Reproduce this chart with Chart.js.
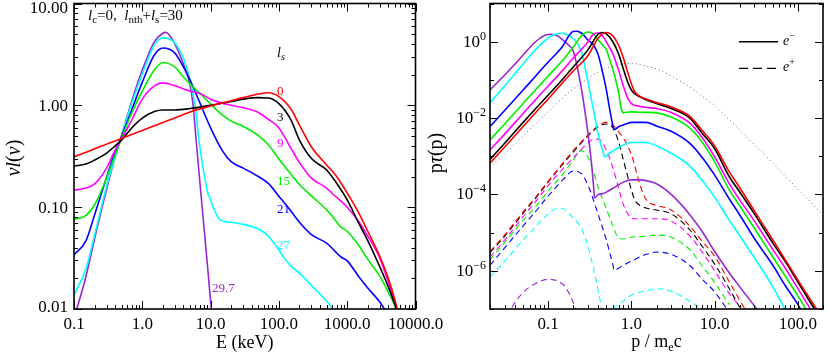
<!DOCTYPE html>
<html><head><meta charset="utf-8">
<script src="https://cdn.jsdelivr.net/npm/chart.js@4"></script>
<style>
html,body{margin:0;padding:0;background:#fff;}
#wrap{position:relative;width:830px;height:356px;overflow:hidden;background:#fff;}
canvas{position:absolute;top:0;}
#cl{left:0;} #cr{left:415px;}
</style></head><body>
<div id="wrap"><canvas id="cl" width="460" height="356"></canvas><canvas id="cr" width="415" height="356"></canvas></div>
<script>
// ---------------- LEFT PANEL DATA : nu l(nu) vs E (keV) ----------------
const L_xTicks = [0.1, 1, 10, 100, 1000, 10000];
const L_xTickLabels = ['0.1', '1.0', '10.0', '100.0', '1000.0', '10000.0'];
const L_yTicks = [0.01, 0.1, 1, 10];
const L_yTickLabels = ['0.01', '0.10', '1.00', '10.00'];

const L_E_ls0 = [0.1,0.15,0.2,0.3,0.4,0.5,0.7,1,1.5,2,3,5,10,20,30,50,70,100,150,200,300,500,700,1000,1500,2000,3000,4000,5000,5500];
const L_V_ls0 = [0.313,0.347,0.374,0.416,0.447,0.474,0.517,0.567,0.629,0.678,0.752,0.86,0.985,1.11,1.19,1.29,1.33,1.22,0.92,0.64,0.39,0.26,0.20,0.138,0.086,0.058,0.033,0.020,0.0123,0.0096];

const L_E_ls3 = [0.1,0.15,0.2,0.3,0.4,0.5,0.7,1,1.5,2,3,5,10,20,30,50,70,100,150,200,300,500,700,1000,1500,2000,3000,4000,5000,5500];
const L_V_ls3 = [0.253,0.265,0.29,0.34,0.40,0.456,0.60,0.75,0.87,0.90,0.90,0.93,1.0,1.09,1.15,1.19,1.18,1.04,0.72,0.456,0.30,0.232,0.172,0.118,0.068,0.047,0.026,0.0165,0.011,0.009];

const L_E_ls9 = [0.1,0.15,0.2,0.3,0.4,0.5,0.7,1,1.5,2,3,5,7,10,20,30,50,70,100,150,200,300,500,600,1000,1500,2000,3000,4000,5000,5500];
const L_V_ls9 = [0.147,0.154,0.169,0.242,0.364,0.467,0.717,1.15,1.55,1.66,1.56,1.38,1.31,1.15,1.0,0.95,0.85,0.73,0.60,0.38,0.274,0.193,0.154,0.137,0.10,0.071,0.052,0.0316,0.0183,0.0116,0.0093];

const L_E_ls15 = [0.1,0.15,0.2,0.3,0.4,0.5,0.7,1,1.5,2,3,4,5,7,10,15,20,30,50,70,100,150,200,300,500,600,800,1000,1500,2000,3000,4000,5000,5500];
const L_V_ls15 = [0.076,0.083,0.105,0.193,0.325,0.477,0.84,1.38,2.22,2.63,2.37,1.9,1.62,1.31,1.03,0.80,0.70,0.62,0.505,0.41,0.297,0.211,0.167,0.129,0.094,0.082,0.064,0.058,0.0415,0.0307,0.021,0.0146,0.0107,0.0089];

const L_E_ls21 = [0.1,0.15,0.2,0.3,0.4,0.5,0.7,1,1.5,2,3,4,5,7,10,15,20,30,50,70,100,150,200,300,500,600,800,1000,1500,2000,3000,3500,4000];
const L_V_ls21 = [0.034,0.047,0.084,0.197,0.348,0.50,0.90,1.69,3.12,3.65,3.26,2.38,1.77,1.05,0.60,0.355,0.28,0.242,0.20,0.171,0.128,0.0915,0.071,0.0537,0.0443,0.0395,0.0326,0.0297,0.0205,0.0161,0.0117,0.010,0.0085];

const L_E_ls27 = [0.1,0.15,0.2,0.3,0.4,0.5,0.7,1,1.5,2,3,4,5,5.5,6,6.5,7,7.5,8.5,9,10,11,12,13.5,20,30,50,70,100,120,150,200,300,500,700];
const L_V_ls27 = [0.0137,0.025,0.053,0.161,0.31,0.51,1.05,2.03,3.9,4.6,4.1,2.9,1.8,1.3,0.95,0.57,0.38,0.277,0.173,0.141,0.118,0.098,0.086,0.076,0.071,0.068,0.061,0.052,0.038,0.0316,0.0264,0.0225,0.017,0.0119,0.0091];

const L_E_ls297 = [0.1,0.15,0.2,0.3,0.4,0.5,0.7,1,1.5,2,2.2,3,4,5,5.5,6,7,8.5,10,11];
const L_V_ls297 = [0.0081,0.021,0.049,0.15,0.31,0.51,1.1,2.22,4.2,5.1,5.2,4.0,2.54,1.58,1.05,0.55,0.17,0.041,0.012,0.006];

const L_curveLabels = ['0', '3', '9', '15', '21', '27', '29.7'];
const L_labelE = [94, 94, 94, 94, 94, 94, 10.5];
const L_labelV = [1.41, 0.77, 0.436, 0.183, 0.098, 0.0434, 0.0164];

// ---------------- RIGHT PANEL DATA : p tau(p) vs p/mec ----------------
const R_xTicks = [0.1, 1, 10, 100];
const R_xTickLabels = ['0.1', '1.0', '10.0', '100.0'];
const R_yTicks = [1e-6, 1e-4, 1e-2, 1];
const R_yTickExp = ['\u22126', '\u22124', '\u22122', '0'];

// electrons (solid)
const R_p_el_purple = [0.02,0.03,0.04,0.05,0.07,0.09,0.1,0.11,0.13,0.15,0.18,0.2,0.25,0.3,0.33,0.35,0.36,0.4,0.45,0.5,0.6,0.8,1,1.3,1.5,2,3,5,7,10,15,20,30,33];
const R_t_el_purple = [0.0544,0.134,0.26,0.45,0.98,1.45,1.54,1.56,1.41,1.11,0.77,0.57,0.06,4.1e-3,7e-4,1.77e-4,8.1e-5,1.0e-4,1.05e-4,1.15e-4,1.45e-4,2.1e-4,2.4e-4,2.4e-4,2.3e-4,1.9e-4,1.0e-4,3.0e-5,1.1e-5,3.2e-6,8.8e-7,3.8e-7,1.2e-7,9e-8];
const R_p_el_cyan = [0.02,0.03,0.05,0.07,0.1,0.12,0.14,0.16,0.2,0.25,0.3,0.35,0.4,0.45,0.48,0.55,0.7,1,1.5,2,3,5,7,10,15,20,30,50,70];
const R_t_el_cyan = [0.0253,0.069,0.26,0.61,1.25,1.54,1.66,1.59,1.21,0.55,0.09,0.0163,3.6e-3,1.45e-3,9.7e-4,1.2e-3,1.7e-3,2.3e-3,2.3e-3,1.87e-3,1.2e-3,5.6e-4,2.4e-4,8.5e-5,2.1e-5,8.3e-6,2.2e-6,3.8e-7,1e-7];
const R_p_el_blue = [0.02,0.03,0.05,0.07,0.1,0.15,0.18,0.2,0.22,0.25,0.3,0.35,0.4,0.45,0.5,0.55,0.6,0.62,0.7,0.8,1,1.5,2,3,5,7,10,15,20,30,50,70,100,110];
const R_t_el_blue = [6.0e-3,0.0158,0.0544,0.123,0.294,0.77,1.5,1.85,1.87,1.69,1.11,0.82,0.45,0.16,0.055,0.0163,6.2e-3,5.0e-3,5.9e-3,6.6e-3,7.7e-3,7.7e-3,6.2e-3,4.5e-3,2.2e-3,9.6e-4,3.2e-4,7.6e-5,2.9e-5,7.0e-6,1.4e-6,4.2e-7,1.3e-7,9e-8];
const R_p_el_green = [0.02,0.03,0.05,0.07,0.1,0.15,0.2,0.25,0.3,0.35,0.4,0.45,0.5,0.55,0.6,0.7,0.75,0.8,1,1.5,2,3,5,7,10,15,20,30,50,70,100,150];
const R_t_el_green = [2.67e-3,7.0e-3,0.024,0.0544,0.126,0.332,0.73,1.41,1.79,1.59,1.11,0.82,0.61,0.33,0.18,0.048,0.0184,0.0139,0.0145,0.0141,0.0137,0.0107,5.5e-3,2.4e-3,7.1e-4,1.3e-4,5.0e-5,1.3e-5,2.3e-6,7.4e-7,2.2e-7,5e-8];
const R_p_el_magenta = [0.02,0.03,0.05,0.07,0.1,0.15,0.2,0.3,0.35,0.4,0.45,0.5,0.55,0.6,0.7,0.8,0.9,1.0,1.2,1.5,2,3,5,7,10,15,20,30,50,70,100,150];
const R_t_el_magenta = [1.46e-3,3.8e-3,0.0132,0.0298,0.069,0.18,0.374,0.98,1.59,1.69,1.41,0.98,0.68,0.48,0.18,0.069,0.0336,0.024,0.0207,0.019,0.0178,0.014,7.5e-3,3.2e-3,9.6e-4,1.9e-4,7.2e-5,2.0e-5,3.6e-6,1.2e-6,3.4e-7,8e-8];
const R_p_el_black = [0.02,0.03,0.05,0.07,0.1,0.15,0.2,0.3,0.4,0.45,0.5,0.6,0.7,0.8,0.9,1.0,1.1,1.3,1.5,2,3,5,7,10,15,20,30,50,70,100,150,200];
const R_t_el_black = [8.3e-4,2.2e-3,7.7e-3,0.0173,0.040,0.106,0.218,0.61,1.59,1.74,1.59,0.98,0.48,0.193,0.088,0.054,0.043,0.035,0.030,0.024,0.0178,0.0101,4.1e-3,1.57e-3,2.9e-4,1.16e-4,3.1e-5,5.3e-6,1.8e-6,5.1e-7,1.2e-7,4.6e-8];
const R_p_el_red = [0.02,0.03,0.05,0.07,0.1,0.15,0.2,0.3,0.4,0.5,0.6,0.7,0.8,0.9,1.0,1.1,1.3,1.5,2,3,5,7,10,15,20,30,50,70,100,150,200];
const R_t_el_red = [6.6e-4,1.75e-3,6.0e-3,0.0136,0.0316,0.0855,0.171,0.43,1.25,1.74,1.41,0.82,0.374,0.161,0.078,0.048,0.0357,0.0316,0.0256,0.0195,0.0113,4.9e-3,1.87e-3,3.9e-4,1.5e-4,3.7e-5,6.4e-6,2.0e-6,5.7e-7,1.45e-7,5.5e-8];

// positrons (dashed)
const R_p_po_red = [0.02,0.03,0.05,0.07,0.1,0.15,0.2,0.3,0.4,0.5,0.6,0.7,0.8,1.0,1.2,1.4,1.6,2,3,5,7,10,15,20,23];
const R_t_po_red = [3.2e-6,8.7e-6,3.5e-5,8.3e-5,2.2e-4,6.6e-4,1.4e-3,3.6e-3,6.3e-3,7.7e-3,6.6e-3,4.4e-3,3.0e-3,1.1e-3,2.7e-4,9.7e-5,6.3e-5,5.2e-5,3.9e-5,1.5e-5,6.1e-6,2.4e-6,5.1e-7,1.7e-7,1e-7];
const R_p_po_black = [0.02,0.03,0.05,0.07,0.1,0.15,0.2,0.3,0.4,0.5,0.6,0.7,0.8,0.9,1.0,1.1,1.3,1.5,2,3,5,7,10,15,20];
const R_t_po_black = [3.0e-6,8.0e-6,3.2e-5,7.8e-5,2.1e-4,6.2e-4,1.3e-3,3.4e-3,5.9e-3,7.0e-3,5.5e-3,2.4e-3,8.0e-4,3.0e-4,1.3e-4,7.1e-5,5.0e-5,4.4e-5,3.9e-5,3.1e-5,1.2e-5,4.5e-6,1.5e-6,3.4e-7,1.1e-7];
const R_p_po_magenta = [0.02,0.03,0.05,0.07,0.1,0.15,0.2,0.3,0.35,0.4,0.5,0.6,0.7,0.8,0.9,1.0,1.5,2,3,5,7,10,15,20];
const R_t_po_magenta = [2.3e-6,6.4e-6,2.6e-5,6.3e-5,1.7e-4,4.7e-4,9.1e-4,2.2e-3,2.8e-3,2.8e-3,1.45e-3,4.9e-4,1.5e-4,5.4e-5,3.2e-5,2.3e-5,2.3e-5,2.3e-5,2.0e-5,8.3e-6,3.2e-6,1.0e-6,2.5e-7,1.2e-7];
const R_p_po_green = [0.02,0.03,0.05,0.07,0.1,0.15,0.2,0.25,0.3,0.35,0.4,0.5,0.6,0.7,0.8,1,1.5,2,3,5,7,10,15];
const R_t_po_green = [1.94e-6,5.5e-6,2.1e-5,4.7e-5,1.23e-4,3.4e-4,8.0e-4,1.4e-3,9.5e-4,3.9e-4,1.5e-4,4.2e-5,1.5e-5,7.2e-6,6.8e-6,7.6e-6,8.0e-6,8.6e-6,7.6e-6,3.6e-6,1.4e-6,4.9e-7,1.3e-7];
const R_p_po_blue = [0.02,0.03,0.05,0.07,0.1,0.15,0.2,0.25,0.3,0.35,0.4,0.5,0.55,0.6,0.62,0.7,0.8,1,1.5,2,3,5,7,10,15];
const R_t_po_blue = [1.4e-6,4.0e-6,1.5e-5,3.5e-5,9.1e-5,2.4e-4,4.1e-4,3.5e-4,1.77e-4,7.1e-5,2.9e-5,6.4e-6,2.9e-6,1.4e-6,1.03e-6,1.17e-6,1.4e-6,1.8e-6,2.7e-6,3.1e-6,2.7e-6,1.4e-6,6.2e-7,2.8e-7,8e-8];
const R_p_po_cyan = [0.02,0.03,0.05,0.07,0.1,0.13,0.15,0.2,0.25,0.3,0.35,0.4,0.45,0.5,0.6,0.7,1,1.5,2,3,5,7,10];
const R_t_po_cyan = [6.9e-7,1.8e-6,6.4e-6,1.4e-5,3.1e-5,4.3e-5,4.2e-5,2.4e-5,1.3e-5,4.4e-6,1.17e-6,2.9e-7,7e-8,1e-8,9.3e-8,1.3e-7,2.3e-7,3.0e-7,3.4e-7,2.9e-7,1.6e-7,9.3e-8,3e-8];
const R_p_po_purple = [0.03,0.035,0.05,0.07,0.1,0.13,0.16,0.2,0.22,0.25];
const R_t_po_purple = [3.6e-8,9e-8,2.7e-7,4.6e-7,6.0e-7,5.4e-7,3.8e-7,1.5e-7,8.5e-8,3e-8];

// dotted reference curve
const R_p_dot = [0.02,0.03,0.05,0.07,0.1,0.15,0.2,0.3,0.5,0.7,1,1.5,2,3,5,7,10,15,20,30,50,70,100,150,200];
const R_t_dot = [4.9e-4,1.15e-3,3.4e-3,7.0e-3,0.0145,0.0336,0.058,0.109,0.205,0.253,0.27,0.23,0.193,0.127,0.065,0.038,0.021,9.0e-3,4.9e-3,2.0e-3,6.6e-4,3.1e-4,1.37e-4,5.6e-5,2.8e-5];

// ---------------- styling ----------------
const C = {red:'#ff0000', black:'#000000', magenta:'#ff00ff', green:'#00ee00', blue:'#0000ff', cyan:'#00ffff', purple:'#9628d2', dot:'#6a6a6a'};
const L_colors = [C.red, C.black, C.magenta, C.green, C.blue, C.cyan, C.purple];
const SERIF = '"Liberation Serif","DejaVu Serif","Times New Roman",serif';
const F = (s, it) => (it ? 'italic ' : '') + s + 'px ' + SERIF;

function rich(ctx, x, y, parts, align) {
  let w = 0;
  for (const p of parts) { ctx.font = p[1]; w += ctx.measureText(p[0]).width; }
  let cx = align === 'right' ? x - w : align === 'center' ? x - w / 2 : x;
  for (const p of parts) { ctx.font = p[1]; ctx.fillText(p[0], cx, y + (p[2] || 0)); cx += ctx.measureText(p[0]).width; }
}

function ds(xs, ys, color, extra) {
  return Object.assign({
    data: xs.map((x, i) => ({x: x, y: ys[i]})),
    borderColor: color, backgroundColor: color, borderWidth: 1.6,
    pointRadius: 0, fill: false, cubicInterpolationMode: 'monotone'
  }, extra || {});
}

function logTicks(min, max, minor, evenMajor) {
  const out = [];
  for (let d = Math.floor(Math.log10(min)) - 1; d <= Math.ceil(Math.log10(max)); d++) {
    const ms = minor ? [1,2,3,4,5,6,7,8,9] : [1];
    for (const m of ms) {
      const v = m * Math.pow(10, d);
      if (v < min * 0.999 || v > max * 1.001) continue;
      out.push({v: v, major: evenMajor ? (d % 2 === 0) : m === 1});
    }
  }
  return out;
}

function drawFrame(chart, xMinor, yMinor, yEven) {
  const ctx = chart.ctx, a = chart.chartArea, sx = chart.scales.x, sy = chart.scales.y;
  ctx.save();
  ctx.strokeStyle = '#000';
  ctx.lineWidth = 1;
  ctx.beginPath();
  for (const t of logTicks(sx.min, sx.max, xMinor, false)) {
    const px = Math.round(sx.getPixelForValue(t.v)) + 0.5, len = t.major ? 8 : 4;
    ctx.moveTo(px, a.bottom); ctx.lineTo(px, a.bottom - len);
    ctx.moveTo(px, a.top); ctx.lineTo(px, a.top + len);
  }
  for (const t of logTicks(sy.min, sy.max, yMinor, yEven)) {
    const py = Math.round(sy.getPixelForValue(t.v)) + 0.5, len = t.major ? 8 : 4;
    ctx.moveTo(a.left, py); ctx.lineTo(a.left + len, py);
    ctx.moveTo(a.right, py); ctx.lineTo(a.right - len, py);
  }
  ctx.stroke();
  ctx.lineWidth = 1.6;
  ctx.strokeRect(a.left, a.top, a.right - a.left, a.bottom - a.top);
  ctx.restore();
}

function baseOptions(xmin, xmax, ymin, ymax, yw, padRight) {
  return {
    responsive: false, animation: false, devicePixelRatio: 1,
    layout: {padding: {left: 0, right: padRight, top: 3.5, bottom: 0}},
    plugins: {legend: {display: false}, tooltip: {enabled: false}},
    elements: {line: {borderJoinStyle: 'round'}},
    scales: {
      x: {type: 'logarithmic', min: xmin, max: xmax, grid: {display: false}, border: {display: false},
          ticks: {display: false}, afterFit: s => { s.height = 47; }},
      y: {type: 'logarithmic', min: ymin, max: ymax, grid: {display: false}, border: {display: false},
          ticks: {display: false}, afterFit: s => { s.width = yw; }}
    }
  };
}

// ---------------- LEFT CHART ----------------
const leftPlugin = {
  id: 'leftDeco',
  afterDraw(chart) {
    drawFrame(chart, true, true, false);
    const ctx = chart.ctx, a = chart.chartArea, sx = chart.scales.x, sy = chart.scales.y;
    ctx.save();
    ctx.fillStyle = '#000'; ctx.textBaseline = 'alphabetic'; ctx.textAlign = 'left';
    L_yTicks.forEach((v, i) => {
      let y = sy.getPixelForValue(v);
      y = Math.min(Math.max(y, a.top + 3), a.bottom - 3);
      rich(ctx, a.left - 6, y + 6, [[L_yTickLabels[i], F(17)]], 'right');
    });
    L_xTicks.forEach((v, i) => {
      rich(ctx, sx.getPixelForValue(v), 329, [[L_xTickLabels[i], F(17)]], 'center');
    });
    rich(ctx, (a.left + a.right) / 2, 348, [['E (keV)', F(18)]], 'center');
    ctx.save(); ctx.translate(20, 158); ctx.rotate(-Math.PI / 2);
    rich(ctx, 0, 0, [['\u03bd', F(20, true)], ['l', F(20, true)], ['(', F(20)], ['\u03bd', F(20, true)], [')', F(20)]], 'center');
    ctx.restore();
    rich(ctx, a.left + 14, 20, [['l', F(15, true)], ['c', F(11), 3], ['=0,  ', F(15)], ['l', F(15, true)], ['nth', F(11), 3],
      ['+', F(15)], ['l', F(15, true)], ['s', F(11), 3], ['=30', F(15)]], 'left');
    rich(ctx, sx.getPixelForValue(94), sy.getPixelForValue(3.26) + 4, [['l', F(14, true)], ['s', F(10, true), 3]], 'left');
    L_curveLabels.forEach((t, i) => {
      ctx.fillStyle = L_colors[i];
      rich(ctx, sx.getPixelForValue(L_labelE[i]), sy.getPixelForValue(L_labelV[i]) + 4.5, [[t, F(13)]], 'left');
    });
    ctx.restore();
  }
};

new Chart(document.getElementById('cl'), {
  type: 'line',
  data: {datasets: [
    ds(L_E_ls0, L_V_ls0, C.red),
    ds(L_E_ls3, L_V_ls3, C.black),
    ds(L_E_ls9, L_V_ls9, C.magenta),
    ds(L_E_ls15, L_V_ls15, C.green),
    ds(L_E_ls21, L_V_ls21, C.blue),
    ds(L_E_ls27, L_V_ls27, C.cyan),
    ds(L_E_ls297, L_V_ls297, C.purple)
  ]},
  options: baseOptions(0.1, 10000, 0.01, 10, 74, 44.5),
  plugins: [leftPlugin]
});

// ---------------- RIGHT CHART ----------------
const rightPlugin = {
  id: 'rightDeco',
  afterDraw(chart) {
    drawFrame(chart, true, false, true);
    const ctx = chart.ctx, a = chart.chartArea, sx = chart.scales.x, sy = chart.scales.y;
    ctx.save();
    ctx.fillStyle = '#000'; ctx.textBaseline = 'alphabetic'; ctx.textAlign = 'left';
    R_yTicks.forEach((v, i) => {
      const y = sy.getPixelForValue(v);
      rich(ctx, a.left - 4, y + 5, [['10', F(17)], [R_yTickExp[i], F(12), -7]], 'right');
    });
    R_xTicks.forEach((v, i) => {
      rich(ctx, sx.getPixelForValue(v), 329, [[R_xTickLabels[i], F(17)]], 'center');
    });
    rich(ctx, (a.left + a.right) / 2, 347, [['p / m', F(18)], ['e', F(12), 4], ['c', F(18)]], 'center');
    ctx.save(); ctx.translate(27, 153); ctx.rotate(-Math.PI / 2);
    rich(ctx, 0, 0, [['p', F(20)], ['\u03c4', F(20, true)], ['(p)', F(20)]], 'center');
    ctx.restore();
    // legend
    ctx.strokeStyle = '#000'; ctx.lineWidth = 1.6;
    ctx.beginPath(); ctx.moveTo(324, 41.7); ctx.lineTo(363, 41.7); ctx.stroke();
    ctx.lineWidth = 1.2; ctx.setLineDash([9, 5]);
    ctx.beginPath(); ctx.moveTo(324, 68.3); ctx.lineTo(363, 68.3); ctx.stroke();
    ctx.setLineDash([]);
    rich(ctx, 368, 45, [['e', F(14, true)], ['\u2212', F(10), -6]], 'left');
    rich(ctx, 368, 71, [['e', F(14, true)], ['+', F(10), -6]], 'left');
    ctx.restore();
  }
};

const dash = {borderWidth: 1.1, borderDash: [6, 4]};
new Chart(document.getElementById('cr'), {
  type: 'line',
  data: {datasets: [
    ds(R_p_el_red, R_t_el_red, C.red),
    ds(R_p_el_black, R_t_el_black, C.black),
    ds(R_p_el_magenta, R_t_el_magenta, C.magenta),
    ds(R_p_el_green, R_t_el_green, C.green),
    ds(R_p_el_blue, R_t_el_blue, C.blue),
    ds(R_p_el_cyan, R_t_el_cyan, C.cyan),
    ds(R_p_el_purple, R_t_el_purple, C.purple),
    ds(R_p_po_red, R_t_po_red, C.red, dash),
    ds(R_p_po_black, R_t_po_black, C.black, dash),
    ds(R_p_po_magenta, R_t_po_magenta, C.magenta, dash),
    ds(R_p_po_green, R_t_po_green, C.green, dash),
    ds(R_p_po_blue, R_t_po_blue, C.blue, dash),
    ds(R_p_po_cyan, R_t_po_cyan, C.cyan, dash),
    ds(R_p_po_purple, R_t_po_purple, C.purple, dash),
    ds(R_p_dot, R_t_dot, C.dot, {borderWidth: 1, borderDash: [1, 3]})
  ]},
  options: baseOptions(0.02, 200, 1e-7, 10, 75, 7),
  plugins: [rightPlugin]
});
</script>
</body></html>
